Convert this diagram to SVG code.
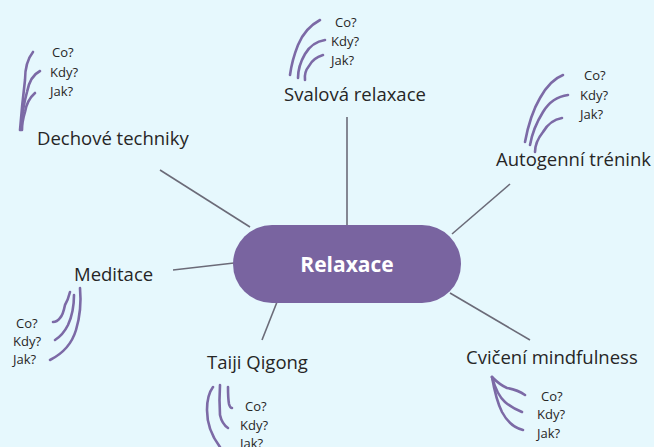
<svg xmlns="http://www.w3.org/2000/svg" width="654" height="447" viewBox="0 0 654 447">
<style>
.bg{fill:#e6f8fd}
.conn{stroke:#6b6b78;stroke-width:1.6;fill:none}
.h{stroke:#7c6aa6;stroke-width:2.6;fill:none;stroke-linecap:round;stroke-linejoin:round}
.lbl{font-family:"Open Sans","Noto Sans",sans-serif;font-size:18.5px;fill:#262626}
.q{font-family:"Open Sans","Noto Sans",sans-serif;font-size:13px;fill:#262626}
.center{font-family:"Open Sans","Noto Sans",sans-serif;font-size:21px;font-weight:bold;fill:#ffffff}
</style>
<rect class="bg" width="654" height="447"/>
<g id="connectors">
<line class="conn" x1="250" y1="227" x2="160" y2="170"/>
<line class="conn" x1="347" y1="225" x2="347" y2="117"/>
<line class="conn" x1="452" y1="234" x2="510" y2="184"/>
<line class="conn" x1="234" y1="263" x2="173" y2="270"/>
<line class="conn" x1="277" y1="302" x2="262" y2="340"/>
<line class="conn" x1="450" y1="293" x2="530" y2="340"/>
</g>
<g id="relaxace">
<rect x="233" y="225" width="228" height="78" rx="39" fill="#7964a0"/>
<text class="center" x="347" y="272" text-anchor="middle">Relaxace</text>
</g>
<g id="dechove">
<text class="lbl" x="37" y="145">Dechové techniky</text>
<path class="h" d="M33,52 Q25,62 25,80 Q22,105 20,130"/>
<path class="h" d="M40,71 Q30,76 27,92 Q22,110 21,130"/>
<path class="h" d="M35,93 Q27,100 25,112 Q22,122 22,130"/>
<text class="q" x="52" y="57">Co?</text>
<text class="q" x="50" y="77">Kdy?</text>
<text class="q" x="50" y="96">Jak?</text>
</g>
<g id="svalova">
<text class="lbl" x="284" y="101">Svalová relaxace</text>
<path class="h" d="M320,20 Q305,28 298,45 Q292,60 290,75"/>
<path class="h" d="M325,40 Q312,42 305,54 Q298,66 298,78"/>
<path class="h" d="M323,55 Q313,58 309,66 Q304,72 305,80"/>
<text class="q" x="335" y="27">Co?</text>
<text class="q" x="331" y="46">Kdy?</text>
<text class="q" x="331" y="65">Jak?</text>
</g>
<g id="autogenni">
<text class="lbl" x="496" y="166">Autogenní trénink</text>
<path class="h" d="M563,75 Q550,80 540,98 Q530,115 525,142"/>
<path class="h" d="M568,95 Q552,97 543,112 Q533,128 530,145"/>
<path class="h" d="M562,118 Q550,120 543,132 Q535,142 535,152"/>
<text class="q" x="584" y="80">Co?</text>
<text class="q" x="580" y="100">Kdy?</text>
<text class="q" x="580" y="119">Jak?</text>
</g>
<g id="meditace">
<text class="lbl" x="74" y="281">Meditace</text>
<path class="h" d="M70,292 Q68,300 65,305 Q63,315 60,318 Q57,322 53,322"/>
<path class="h" d="M74,295 Q74,312 68,325 Q63,335 55,340"/>
<path class="h" d="M80,288 Q82,310 76,330 Q70,350 50,360"/>
<text class="q" x="16" y="328">Co?</text>
<text class="q" x="13" y="346">Kdy?</text>
<text class="q" x="13" y="364">Jak?</text>
</g>
<g id="taiji">
<text class="lbl" x="207" y="369">Taiji Qigong</text>
<path class="h" d="M213,387 Q207,395 207,410 Q207,430 220,447"/>
<path class="h" d="M220,385 Q219,400 220,415 Q222,424 228,428"/>
<path class="h" d="M228,387 Q228,398 229,404 Q230,408 232,408"/>
<text class="q" x="245" y="411">Co?</text>
<text class="q" x="240" y="430">Kdy?</text>
<text class="q" x="240" y="448">Jak?</text>
</g>
<g id="cviceni">
<text class="lbl" x="466" y="364">Cvičení mindfulness</text>
<path class="h" d="M492,377 Q500,385 507,388 Q518,390 525,395"/>
<path class="h" d="M492,377 Q497,395 505,402 Q512,408 522,412"/>
<path class="h" d="M492,377 Q496,400 502,412 Q510,427 523,430"/>
<text class="q" x="541" y="401">Co?</text>
<text class="q" x="537" y="419">Kdy?</text>
<text class="q" x="537" y="438">Jak?</text>
</g>
</svg>
